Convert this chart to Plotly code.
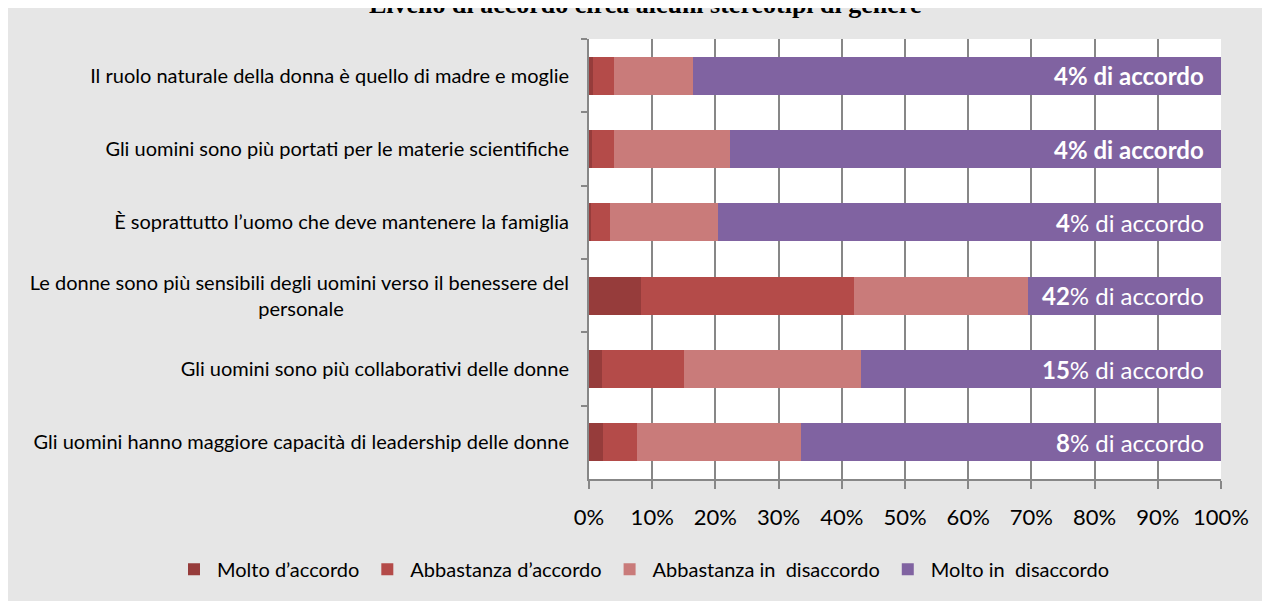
import plotly.graph_objects as go

# Domande (dall'alto verso il basso)
categories = [
    "Il ruolo naturale della donna è quello di madre e moglie",
    "Gli uomini sono più portati per le materie scientifiche",
    "È soprattutto l’uomo che deve mantenere la famiglia",
    "Le donne sono più sensibili degli uomini verso il benessere del<br>personale",
    "Gli uomini sono più collaborativi delle donne",
    "Gli uomini hanno maggiore capacità di leadership delle donne",
]

# Percentuali per livello di accordo
molto_accordo = [0.7, 0.5, 0.3, 8.3, 2.0, 2.2]
abbastanza_accordo = [3.3, 3.4, 3.1, 33.7, 13.0, 5.4]
abbastanza_disaccordo = [12.4, 18.4, 17.0, 27.5, 28.0, 25.9]
molto_disaccordo = [83.6, 77.7, 79.6, 30.5, 57.0, 66.5]

# Totale "di accordo" e se la scritta è tutta in grassetto
tot_accordo = [4, 4, 4, 42, 15, 8]
tutto_grassetto = [True, True, False, False, False, False]

series = [
    ("Molto d’accordo", molto_accordo, "#963c3b"),
    ("Abbastanza d’accordo", abbastanza_accordo, "#b44b49"),
    ("Abbastanza in  disaccordo", abbastanza_disaccordo, "#c97b7a"),
    ("Molto in  disaccordo", molto_disaccordo, "#8063a1"),
]

FONT = "Lato"
W, H = 1262, 593          # la pagina aggiunge 8px di margine
L, R, T, B = 581, 49, 31, 118
PW, PH = W - L - R, H - T - B

# centra la seconda riga dell'etichetta lunga
labels = [c.replace("<br>personale", "<br>personale" + "\u00a0" * 44) for c in categories]

fig = go.Figure()
for name, vals, color in series:
    fig.add_trace(go.Bar(
        y=labels,
        x=vals,
        name=name,
        orientation="h",
        marker=dict(color=color, line=dict(width=0)),
        hoverinfo="x+name",
    ))

annotations = []
for lab, tot, bold in zip(labels, tot_accordo, tutto_grassetto):
    txt = f"<b>{tot}% di accordo</b>" if bold else f"<b>{tot}</b>% di accordo"
    annotations.append(dict(
        x=100, y=lab, xref="x", yref="y",
        text=txt, showarrow=False,
        xanchor="right", xshift=-15,
        font=dict(family=FONT, size=24, color="white"),
    ))

# titolo (tagliato in alto come nell'originale)
annotations.append(dict(
    text="<b>Livello di accordo circa alcuni stereotipi di genere</b>",
    xref="paper", yref="paper",
    x=(637 - L) / PW, y=(H - B - (-4)) / PH,
    xanchor="center", yanchor="middle",
    showarrow=False,
    font=dict(family="Liberation Serif", size=26, color="black"),
))

fig.update_layout(
    barmode="stack",
    bargap=0.48,
    width=W,
    height=H,
    margin=dict(l=L, r=R, t=T, b=B),
    paper_bgcolor="#e6e6e6",
    plot_bgcolor="white",
    font=dict(family=FONT, color="black"),
    legend=dict(
        orientation="h",
        traceorder="normal",
        xref="paper", yref="paper",
        x=(163 - L) / PW, xanchor="left",
        y=(H - B - 566) / PH, yanchor="middle",
        itemwidth=36,
        font=dict(family=FONT, size=20, color="black"),
        bgcolor="rgba(0,0,0,0)",
    ),
    annotations=annotations,
)

fig.update_xaxes(
    range=[0, 100],
    dtick=10,
    ticksuffix="%",
    showgrid=True, gridcolor="#878787", gridwidth=1.5,
    showline=True, linecolor="#878787", linewidth=2,
    ticks="outside", ticklen=8, tickcolor="#878787", tickwidth=2,
    ticklabelstandoff=10,
    tickfont=dict(family=FONT, size=22, color="black"),
    zeroline=False,
    fixedrange=True,
)
fig.update_yaxes(
    autorange="reversed",
    showline=True, linecolor="#878787", linewidth=2,
    ticks="outside", ticklen=6, tickcolor="#878787", tickwidth=2,
    tickson="boundaries",
    ticklabelstandoff=14,
    tickfont=dict(family=FONT, size=20, color="black"),
    showgrid=False,
    fixedrange=True,
)

fig.write_html("out.html")
